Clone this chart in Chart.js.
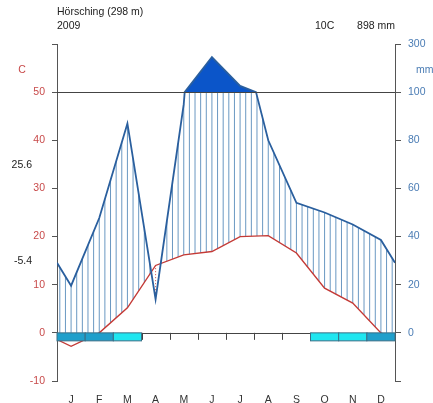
<!DOCTYPE html>
<html>
<head>
<meta charset="utf-8">
<script src="https://cdn.jsdelivr.net/npm/chart.js@4"></script>
<style>
  body { margin: 0; background: #fff; }
  #wrap { width: 433px; height: 403px; position: relative; }
</style>
</head>
<body>
<div id="wrap"><canvas id="climate"></canvas></div>
<script>
// station data (Walter-Lieth diagram)
const station = "Hörsching (298 m)";
const year = "2009";
const meanTemp = "10C";
const sumPrecip = "898 mm";
const maxWarm = "25.6";
const minCold = "-5.4";

const months = ["J", "F", "M", "A", "M", "J", "J", "A", "S", "O", "N", "D"];
const temps = [-2.8, 0.0, 5.2, 14.0, 16.2, 16.9, 20.0, 20.2, 16.6, 9.3, 6.2, 0.0];
const precip = [19.6, 47.7, 87, 14, 95, 246, 126, 80, 54, 50, 45, 38.6];
// 2 = probable frost (dark), 1 = possible frost (light)
const frost = [2, 2, 1, 0, 0, 0, 0, 0, 0, 1, 1, 2];

const tempTicks = [-10, 0, 10, 20, 30, 40, 50, 60];
const tempLabels = ["-10", "0", "10", "20", "30", "40", "50", ""];
const mmLabels = ["", "0", "20", "40", "60", "80", "100", "300"];

const RED = "#c84a4a";
const BLUE = "#4a7cb4";
const AXIS = "#555";

// precipitation -> temperature scale (compressed above 100 mm)
function sc(p) { return p <= 100 ? p / 2 : 50 + (p - 100) / 20; }

const xs = [0, ...months.map((m, i) => i + 0.5), 12];
const wrapP = (precip[0] + precip[11]) / 2;
const wrapT = (temps[0] + temps[11]) / 2;
const pv = [wrapP, ...precip, wrapP];
const tv = [wrapT, ...temps, wrapT];

const precipPts = [];
for (let i = 0; i < pv.length; i++) {
  precipPts.push({ x: xs[i], y: sc(pv[i]) });
  if (i < pv.length - 1 && (pv[i] - 100) * (pv[i + 1] - 100) < 0) {
    const f = (100 - pv[i]) / (pv[i + 1] - pv[i]);
    precipPts.push({ x: xs[i] + f * (xs[i + 1] - xs[i]), y: 50 });
  }
}
const tempPts = tv.map((t, i) => ({ x: xs[i], y: t }));

function interp(vals, x) {
  for (let i = 0; i < xs.length - 1; i++) {
    if (x >= xs[i] && x <= xs[i + 1]) {
      const f = (x - xs[i]) / (xs[i + 1] - xs[i]);
      return vals[i] + f * (vals[i + 1] - vals[i]);
    }
  }
  return vals[vals.length - 1];
}

const hatchPlugin = {
  id: "hatch",
  beforeDatasetsDraw(chart) {
    const ctx = chart.ctx, x = chart.scales.x, y = chart.scales.y;
    ctx.save();
    for (let k = 0; k < 60; k++) {
      const xm = 0.1 + 0.2 * k;
      const p = Math.min(sc(interp(pv, xm)), 50);
      const t = interp(tv, xm);
      const px = x.getPixelForValue(xm);
      ctx.beginPath();
      if (p > t) {
        ctx.strokeStyle = "#6a98c2";
        ctx.lineWidth = 1;
        ctx.setLineDash([]);
        ctx.moveTo(px, y.getPixelForValue(Math.max(t, 0)));
        ctx.lineTo(px, y.getPixelForValue(p));
      } else {
        ctx.strokeStyle = RED;
        ctx.lineWidth = 1;
        ctx.setLineDash([1, 2]);
        ctx.moveTo(px, y.getPixelForValue(p));
        ctx.lineTo(px, y.getPixelForValue(t));
      }
      ctx.stroke();
    }
    ctx.restore();
  },
  afterDatasetsDraw(chart) {
    const ctx = chart.ctx, x = chart.scales.x, y = chart.scales.y;
    const a = chart.chartArea;
    const y0 = y.getPixelForValue(0), y50 = y.getPixelForValue(50);
    ctx.save();
    ctx.strokeStyle = "#444";
    ctx.lineWidth = 1;
    ctx.beginPath();
    ctx.moveTo(a.left, Math.round(y50) + 0.5); ctx.lineTo(a.right, Math.round(y50) + 0.5);
    ctx.moveTo(a.left, Math.round(y0) + 0.5); ctx.lineTo(a.right, Math.round(y0) + 0.5);
    for (let m = 1; m < 12; m++) {
      const px = Math.round(x.getPixelForValue(m)) + 0.5;
      ctx.moveTo(px, y0); ctx.lineTo(px, y0 + 7);
    }
    ctx.stroke();
    // frost boxes
    frost.forEach((f, i) => {
      if (!f) return;
      const l = x.getPixelForValue(i), r = x.getPixelForValue(i + 1);
      ctx.fillStyle = f === 2 ? "#1f9fcb" : "#1fe6f0";
      ctx.fillRect(l, y0, r - l, 8);
      ctx.strokeStyle = "#3b6f86";
      ctx.strokeRect(l, y0, r - l, 8);
    });
    ctx.restore();
  },
  afterDraw(chart) {
    const ctx = chart.ctx, y = chart.scales.y;
    ctx.save();
    ctx.font = "10.5px 'Liberation Sans', Arial, sans-serif";
    ctx.textBaseline = "middle";
    ctx.fillStyle = "#222";
    ctx.textAlign = "left";
    ctx.fillText(station, 57, 12);
    ctx.fillText(year, 57, 26);
    ctx.fillText(meanTemp, 315, 26);
    ctx.textAlign = "right";
    ctx.fillText(sumPrecip, 395, 26);
    ctx.fillText(maxWarm, 32, y.getPixelForValue(34.8));
    ctx.fillText(minCold, 32, y.getPixelForValue(14.8));
    ctx.fillStyle = RED;
    ctx.textAlign = "center";
    ctx.fillText("C", 22, 70);
    ctx.fillStyle = BLUE;
    ctx.textAlign = "left";
    ctx.fillText("mm", 416, 70);
    ctx.restore();
  }
};

Chart.defaults.font.family = "'Liberation Sans', Arial, sans-serif";
Chart.defaults.font.size = 10.5;

new Chart(document.getElementById("climate"), {
  type: "line",
  data: {
    datasets: [
      {
        label: "Precipitation",
        data: precipPts,
        yAxisID: "y",
        borderColor: "#2a5f9e",
        borderWidth: 1.8,
        pointRadius: 0,
        tension: 0,
        fill: { target: { value: 50 }, above: "#0b55c9", below: "rgba(0,0,0,0)" }
      },
      {
        label: "Temperature",
        data: tempPts,
        yAxisID: "y",
        borderColor: "#c43a36",
        borderWidth: 1.4,
        pointRadius: 0,
        tension: 0,
        fill: false
      }
    ]
  },
  options: {
    responsive: true,
    maintainAspectRatio: false,
    animation: false,
    layout: { padding: { top: 44, left: 0, right: 0, bottom: 0 } },
    plugins: { legend: { display: false }, tooltip: { enabled: false } },
    scales: {
      x: {
        type: "linear",
        min: 0,
        max: 12,
        afterFit(s) { s.height = 22; },
        afterBuildTicks(s) { s.ticks = months.map((m, i) => ({ value: i + 0.5 })); },
        grid: { display: false },
        border: { display: false },
        ticks: {
          autoSkip: false,
          maxRotation: 0,
          padding: 5,
          color: "#333",
          callback: (v, i) => months[i]
        }
      },
      y: {
        type: "linear",
        position: "left",
        min: -10,
        max: 60,
        afterFit(s) { s.width = 57; },
        afterBuildTicks(s) { s.ticks = tempTicks.map(v => ({ value: v })); },
        grid: { drawOnChartArea: false, tickLength: 5, color: AXIS },
        border: { display: true, color: AXIS },
        ticks: { color: RED, padding: 7, callback: (v, i) => tempLabels[i] }
      },
      y2: {
        type: "linear",
        position: "right",
        min: -10,
        max: 60,
        afterFit(s) { s.width = 38; },
        afterBuildTicks(s) { s.ticks = tempTicks.map(v => ({ value: v })); },
        grid: { drawOnChartArea: false, tickLength: 6, color: AXIS },
        border: { display: true, color: AXIS },
        ticks: { color: BLUE, padding: 7, callback: (v, i) => mmLabels[i] }
      }
    }
  },
  plugins: [hatchPlugin]
});
</script>
</body>
</html>
